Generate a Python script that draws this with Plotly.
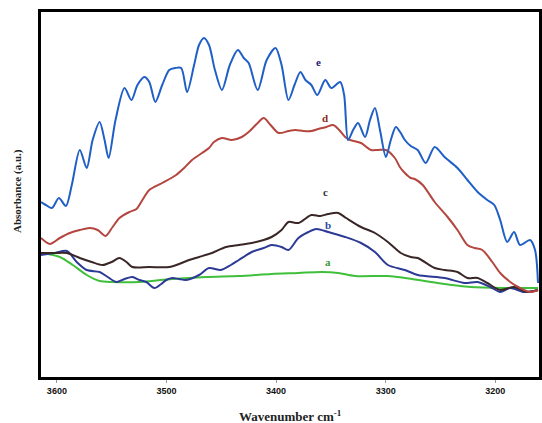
import plotly.graph_objects as go

# Curve e
e_wn = [3614.5, 3610.0, 3604.5, 3598.2, 3591.8, 3586.4, 3579.1, 3572.8, 3567.4, 3561.0, 3556.5, 3552.8,
        3546.5, 3538.3, 3532.0, 3526.5, 3520.2, 3515.7, 3510.2, 3503.9, 3497.5, 3492.1, 3486.6, 3481.2,
        3474.8, 3470.3, 3465.8, 3461.2, 3455.8, 3449.4, 3442.2, 3434.9, 3429.5, 3425.0, 3416.8, 3408.6,
        3400.5, 3395.0, 3388.7, 3383.2, 3377.8, 3373.2, 3367.8, 3362.4, 3355.1, 3349.7, 3341.5, 3337.9,
        3334.3, 3329.7, 3325.2, 3318.8, 3314.3, 3309.8, 3305.2, 3299.8, 3295.3, 3290.7, 3286.2, 3282.5,
        3277.1, 3270.8, 3263.5, 3255.3, 3246.3, 3234.5, 3225.4, 3216.1, 3207.3, 3200.9, 3195.5, 3189.1,
        3182.8, 3177.4, 3168.3, 3163.7, 3161.0]
e_abs = [1.75, 1.72, 1.69, 1.79, 1.71, 1.92, 2.27, 2.09, 2.37, 2.55, 2.37, 2.19,
         2.57, 2.89, 2.77, 2.92, 3.00, 2.95, 2.75, 2.92, 3.07, 3.09, 3.09, 2.85,
         3.12, 3.32, 3.39, 3.32, 3.07, 2.87, 3.12, 3.27, 3.19, 3.14, 2.87, 3.17,
         3.29, 3.12, 2.77, 2.92, 3.05, 2.97, 2.92, 2.82, 2.97, 2.89, 2.95, 2.82,
         2.37, 2.47, 2.54, 2.40, 2.57, 2.69, 2.47, 2.20, 2.37, 2.50, 2.44, 2.37,
         2.31, 2.27, 2.14, 2.30, 2.20, 2.09, 1.97, 1.85, 1.77, 1.72, 1.57, 1.35,
         1.45, 1.32, 1.37, 1.27, 0.94]

# Curve d
d_wn = [3614.5, 3606.4, 3597.3, 3588.2, 3579.1, 3570.1, 3562.8, 3555.6, 3549.2, 3542.9, 3533.8, 3527.4,
        3522.0, 3515.7, 3503.9, 3491.2, 3483.9, 3476.7, 3467.6, 3461.2, 3456.7, 3449.4, 3440.4, 3431.3,
        3425.0, 3417.7, 3411.3, 3405.0, 3397.7, 3388.7, 3382.3, 3375.1, 3367.8, 3361.5, 3354.2, 3347.9,
        3342.4, 3337.0, 3332.5, 3322.5, 3313.4, 3307.1, 3299.8, 3291.6, 3287.1, 3282.5, 3277.1, 3273.5,
        3266.2, 3255.3, 3243.5, 3234.5, 3225.4, 3219.0, 3211.8, 3202.7, 3195.5, 3186.4, 3177.4, 3168.3,
        3161.0]
d_abs = [1.39, 1.33, 1.39, 1.44, 1.47, 1.49, 1.47, 1.41, 1.50, 1.59, 1.65, 1.68,
         1.77, 1.87, 1.94, 2.02, 2.09, 2.17, 2.24, 2.29, 2.35, 2.39, 2.37, 2.40,
         2.45, 2.53, 2.59, 2.52, 2.44, 2.46, 2.47, 2.46, 2.46, 2.48, 2.50, 2.52,
         2.47, 2.40, 2.37, 2.34, 2.27, 2.27, 2.27, 2.19, 2.10, 2.04, 1.99, 1.98,
         1.92, 1.75, 1.60, 1.47, 1.32, 1.29, 1.27, 1.15, 1.04, 0.95, 0.89, 0.85,
         0.87]

# Curve c
c_wn = [3614.5, 3601.8, 3590.9, 3579.1, 3568.3, 3558.3, 3550.1, 3542.9, 3536.5, 3531.1, 3515.7, 3497.5,
        3488.5, 3479.4, 3470.3, 3458.5, 3445.8, 3434.0, 3422.2, 3411.3, 3404.1, 3395.0, 3388.7, 3379.6,
        3367.8, 3359.6, 3352.4, 3343.3, 3336.1, 3322.5, 3309.8, 3298.0, 3286.2, 3277.1, 3270.8, 3255.3,
        3246.3, 3234.5, 3225.4, 3216.1, 3207.3, 3195.5, 3182.8, 3171.0, 3161.0]
c_abs = [1.24, 1.24, 1.24, 1.19, 1.15, 1.12, 1.15, 1.19, 1.15, 1.10, 1.10, 1.10,
         1.13, 1.17, 1.20, 1.24, 1.30, 1.32, 1.34, 1.37, 1.40, 1.47, 1.55, 1.54,
         1.62, 1.61, 1.63, 1.64, 1.59, 1.50, 1.44, 1.35, 1.24, 1.20, 1.19, 1.09,
         1.07, 1.05, 0.99, 0.99, 0.94, 0.87, 0.90, 0.85, 0.87]

# Curve b
b_wn = [3614.5, 3601.8, 3590.9, 3581.9, 3572.8, 3561.0, 3553.7, 3545.6, 3538.3, 3531.1, 3524.7, 3518.4,
        3511.1, 3504.8, 3500.2, 3494.8, 3488.5, 3482.1, 3470.3, 3461.2, 3450.4, 3441.3, 3434.0, 3422.2,
        3411.3, 3404.1, 3395.0, 3388.7, 3379.6, 3370.5, 3363.3, 3352.4, 3337.0, 3322.5, 3309.8, 3298.0,
        3282.5, 3270.8, 3246.3, 3228.1, 3216.1, 3204.5, 3195.5, 3186.4, 3173.7, 3161.0]
b_abs = [1.22, 1.24, 1.26, 1.15, 1.07, 1.05, 1.00, 0.95, 0.98, 1.00, 0.97, 0.95,
         0.89, 0.93, 0.97, 0.99, 0.98, 0.97, 1.02, 1.09, 1.07, 1.12, 1.17, 1.25,
         1.29, 1.32, 1.30, 1.27, 1.39, 1.45, 1.48, 1.45, 1.40, 1.34, 1.25, 1.12,
         1.07, 1.02, 0.99, 0.94, 0.95, 0.90, 0.85, 0.89, 0.85, 0.87]

# Curve a
a_wn = [3614.5, 3597.3, 3585.5, 3572.8, 3561.0, 3549.2, 3524.7, 3494.8, 3464.0, 3434.0, 3404.1, 3379.6,
        3358.7, 3343.3, 3327.9, 3298.0, 3282.5, 3252.6, 3222.6, 3191.8, 3161.0]
a_abs = [1.24, 1.20, 1.12, 1.02, 0.96, 0.95, 0.95, 0.98, 1.00, 1.01, 1.03, 1.04,
         1.05, 1.04, 1.01, 1.01, 0.99, 0.94, 0.90, 0.89, 0.89]

tick_vals = [3600, 3500, 3400, 3300, 3200]
tick_text = ["3600", "3500", "3400", "3300", "3200"]

series = [
    ("a", a_wn, a_abs, "#3fbf3a"),
    ("b", b_wn, b_abs, "#2c3a96"),
    ("c", c_wn, c_abs, "#3a2626"),
    ("d", d_wn, d_abs, "#b4463f"),
    ("e", e_wn, e_abs, "#1f5fc6"),
]

labels = [
    ("e", 3361.5, 3.15, "#1c1c7a"),
    ("d", 3355.1, 2.59, "#8a2a26"),
    ("c", 3355.1, 1.85, "#333333"),
    ("b", 3352.4, 1.52, "#2a4aa0"),
    ("a", 3352.4, 1.15, "#3a9a3a"),
]

fig = go.Figure()
for name, xs, ys, col in series:
    fig.add_trace(go.Scatter(x=xs, y=ys, mode="lines", name=name,
                             line=dict(color=col, width=2, shape="spline", smoothing=0.8),
                             showlegend=False, hoverinfo="skip"))

for txt, x, y, col in labels:
    fig.add_annotation(x=x, y=y, text="<b>%s</b>" % txt, showarrow=False,
                       font=dict(family="Liberation Serif", size=11, color=col))

fig.add_annotation(xref="paper", yref="paper", x=0.5, y=-0.08, yanchor="top",
                   text="<b>Wavenumber cm<sup>-1</sup></b>", showarrow=False,
                   font=dict(family="Liberation Serif", size=13, color="#222"))
fig.add_annotation(xref="paper", yref="paper", x=-0.063, y=0.51, textangle=-90,
                   text="<b>Absorbance (a.u.)</b>", showarrow=False,
                   font=dict(family="Liberation Serif", size=11, color="#222"))

fig.update_xaxes(range=[3614.5, 3160.1], tickvals=tick_vals, ticktext=tick_text,
                 ticks="outside", ticklen=3, tickcolor="#999", tickwidth=1,
                 tickfont=dict(family="Liberation Sans", size=9, color="#111", weight="bold"),
                 showline=True, linecolor="black", linewidth=3, mirror=True,
                 showgrid=False, zeroline=False)
fig.update_yaxes(range=[0, 3.65], showticklabels=False, ticks="",
                 showline=True, linecolor="black", linewidth=3, mirror=True,
                 showgrid=False, zeroline=False)

fig.update_layout(width=542, height=423, margin=dict(l=41, r=0, t=12, b=46),
                  paper_bgcolor="white", plot_bgcolor="white")

fig.write_html("out.html", config={"displayModeBar": False, "staticPlot": True},
               post_script="document.body.style.margin='0';document.body.style.overflow='hidden';")
